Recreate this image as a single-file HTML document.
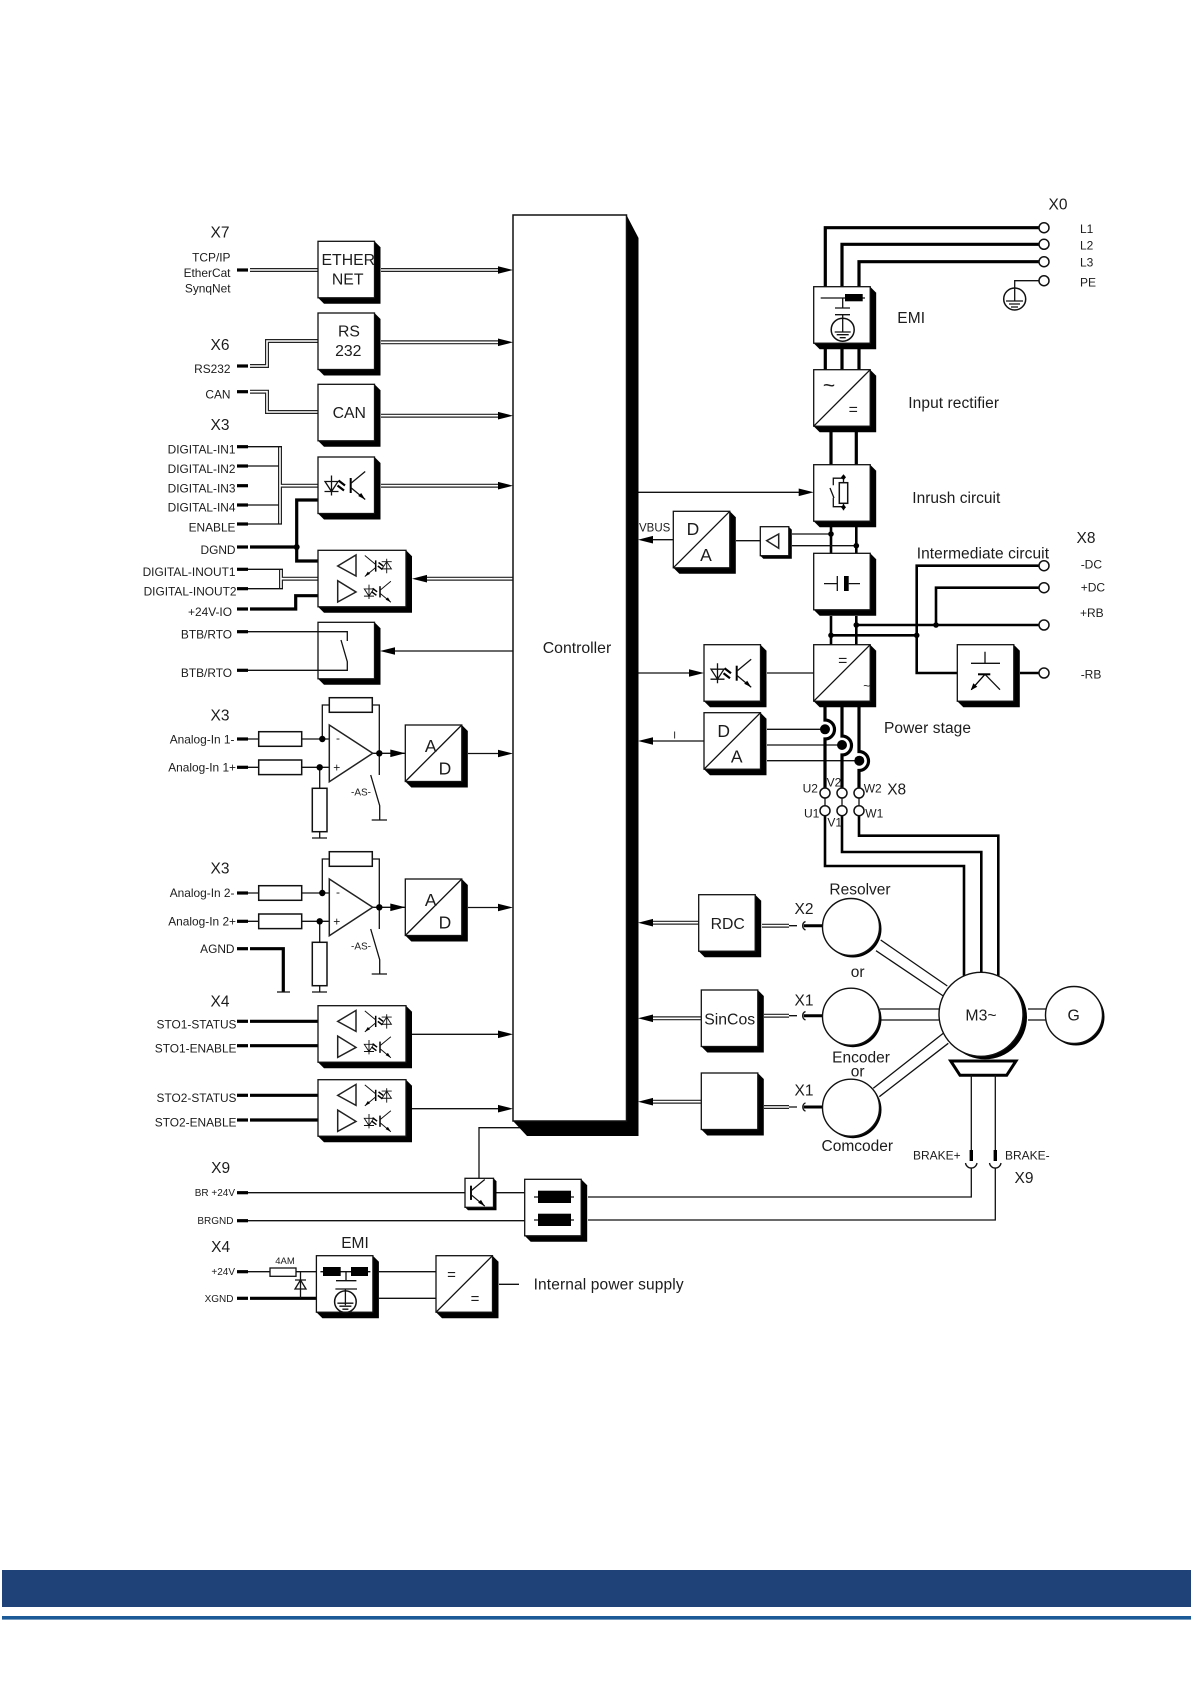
<!DOCTYPE html>
<html><head><meta charset="utf-8"><title>Block diagram</title>
<style>
html,body{margin:0;padding:0;background:#fff;width:1191px;height:1684px;overflow:hidden}
svg{display:block}
text{font-family:"Liberation Sans",sans-serif;fill:#1c1c1c;dominant-baseline:central}
.m{text-anchor:middle}.e{text-anchor:end}
.s{font-size:11.9px;transform:translateY(1px)}.x{font-size:15.5px;transform:translateY(1px)}.b{font-size:15.8px;transform:translateY(1px)}.t{font-size:10px;transform:translateY(1px)}.a{font-size:17.5px;transform:translateY(1px)}.k{font-size:12px}
.w{fill:none;stroke:#111;stroke-width:1.3}
.h{fill:none;stroke:#000;stroke-width:3.2}
.p{fill:none;stroke:#000;stroke-width:2.6}
.f{fill:#000;stroke:none}
.c{fill:#fff;stroke:#111;stroke-width:1.5}
</style></head><body>
<svg width="1191" height="1684" viewBox="0 0 1191 1684" xmlns="http://www.w3.org/2000/svg">
<defs>
<g id="b"><path class="f" d="M56.5,0L62.5,6V62.5H6L0,56.5Z"/><rect x="0" y="0" width="56.5" height="56.5" fill="#fff" stroke="#111" stroke-width="1.3"/></g>
<g id="bw"><path class="f" d="M88,0L94,6V62.5H6L0,56.5Z"/><rect x="0" y="0" width="88" height="56.5" fill="#fff" stroke="#111" stroke-width="1.3"/></g>
<g id="bs"><path class="f" d="M28.5,0L31.5,3V32H3L0,29Z"/><rect x="0" y="0" width="28.5" height="29" fill="#fff" stroke="#111" stroke-width="1.3"/></g>
<g id="tr"><path d="M0,-7.5V7.5" stroke="#000" stroke-width="2" fill="none"/><path class="w" d="M0,-2L14.5,-14M0,2L14.5,14"/><path class="f" d="M14.5,14L7.5,10.5L10.5,7.5Z"/></g>
<g id="di"><path class="w" d="M0,-10V10M-6.5,-4H6.5L0,6ZM-7,6H7"/></g>
<path id="bl" d="M-3.5,-5L3,0M-4.5,0L2,5" stroke="#000" stroke-width="2.2" fill="none"/>
<g id="op"><use href="#tr" x="32.7" y="28.5"/><use href="#di" x="13.5" y="28.5"/><use href="#bl" x="24" y="28.5"/></g>
<g id="du"><use href="#bw"/>
<path fill="none" stroke="#222" stroke-width="1.5" d="M19.7,15.7L38,4.7V25.7ZM19.7,30.4V51.7L38,41.7Z"/>
<use href="#tr" transform="translate(57.7,15.7) scale(-.75,.75)"/>
<use href="#di" transform="translate(68.7,15.7) rotate(180) scale(.72)"/>
<use href="#bl" transform="translate(63,15.7) scale(.7)"/>
<use href="#di" transform="translate(51,41.5) scale(.72)"/>
<use href="#bl" transform="translate(57,41.5) scale(.7)"/>
<use href="#tr" transform="translate(62,41.5) scale(.75)"/>
</g>
<path id="ar" class="f" d="M-15,-3.8L0,0L-15,3.8Z"/>
<path id="al" class="f" d="M15,-3.8L0,0L15,3.8Z"/>
<path id="diag" class="w" d="M0,56.5L56.5,0"/>
<g id="amp">
<path class="w" d="M248,739H258.7M301.7,739H329.3M248,767.3H258.7M301.7,767.3H329.3M319.7,767.3V788.3M319.7,831.7V838M312,838H327M322.3,739V705H329.3M372.3,705H379.3V775M372.7,753.3H405.3M468,753.5H500M370.7,775L379.7,805.7V820M371.7,820H387" />
<rect class="c" x="258.7" y="731.7" width="43" height="14.6"/>
<rect class="c" x="258.7" y="760" width="43" height="14.6"/>
<rect class="c" x="329.3" y="697.7" width="43" height="14.6"/>
<rect class="c" x="312.3" y="788.3" width="14.7" height="43.4"/>
<path fill="#fff" stroke="#222" stroke-width="1.5" d="M329.3,725V781.7L372.7,753.3Z"/>
<circle class="f" cx="322.3" cy="739" r="3.2"/><circle class="f" cx="319.7" cy="767.3" r="3.2"/><circle class="f" cx="379.3" cy="753.3" r="3.2"/>
<use href="#ar" x="405.3" y="753.3"/><use href="#ar" x="513" y="753.5"/>
<g transform="translate(405.3,725)"><use href="#b"/><use href="#diag"/></g>
</g>
<path id="stub" d="M0,0H11" stroke="#000" stroke-width="3.2" fill="none"/>
<g id="dbl" fill="none">
<path d="M250,270H318M381,270H498M250,366H267V341H318M381,342.3H498M250,391.7H267V412H318M381,415.7H498M280,485.7H318M381,485.7H498M281,578.7H318M425,578.7H513M280,446.7V524M281,569.3V588.7"/>
<path d="M650,922.7H699M762,925.7H789M650,1018.3H702M764,1015.7H789M650,1101.7H702M764,1107H789"/>
</g>
</defs>

<rect width="1191" height="1684" fill="#fff"/>

<!-- double wires -->
<use href="#dbl" stroke="#222" stroke-width="4"/>
<use href="#dbl" stroke="#fff" stroke-width="1.6"/>

<!-- left wires -->
<path class="w" d="M248,446.7H282M248,466H279M248,505H279M248,524H282M248,569.3H283M248,588.7H283M248,631.7H318M248,670.3H318M395,651H513"/>
<path class="h" d="M318,500H296.7V561H318M250,547H296.7M250,609H295.7V595.7H318M250,948.7H283.3V992"/>
<path class="h" d="M250,1021.3H318M250,1045.7H318M250,1095.3H318M250,1120H318M250,1298.3H316.4"/>
<path class="w" d="M277,992H290M412,1034.3H500M412,1108.7H500"/>
<circle class="f" cx="296.7" cy="547" r="3"/>

<!-- stubs -->
<g>
<use href="#stub" x="237" y="270"/><use href="#stub" x="237" y="366"/><use href="#stub" x="237" y="391.7"/>
<use href="#stub" x="237" y="446.7"/><use href="#stub" x="237" y="466"/><use href="#stub" x="237" y="485.7"/><use href="#stub" x="237" y="505"/><use href="#stub" x="237" y="524"/>
<use href="#stub" x="237" y="547"/><use href="#stub" x="237" y="569.3"/><use href="#stub" x="237" y="588.7"/><use href="#stub" x="237" y="609"/>
<use href="#stub" x="237" y="631.7"/><use href="#stub" x="237" y="670.3"/>
<use href="#stub" x="237" y="739"/><use href="#stub" x="237" y="767.3"/><use href="#stub" x="237" y="893"/><use href="#stub" x="237" y="921.3"/><use href="#stub" x="237" y="948.7"/>
<use href="#stub" x="237" y="1021.3"/><use href="#stub" x="237" y="1045.7"/><use href="#stub" x="237" y="1095.3"/><use href="#stub" x="237" y="1120"/>
<use href="#stub" x="237" y="1192.7"/><use href="#stub" x="237" y="1220.7"/><use href="#stub" x="237" y="1271.7"/><use href="#stub" x="237" y="1298.3"/>
</g>

<!-- bottom left wires -->
<path class="w" d="M248,1192.7H465M496,1192.7H525M248,1220.7H525M248,1271.7H316.4M300.5,1271.7V1298M479,1178.3V1127.7H520M379,1271.7H436M379,1298.3H436M499,1284.3H519M588,1197H971.3V1168M588,1220H995.3V1168"/>
<rect class="c" x="270" y="1268" width="26" height="8.3" style="stroke-width:1.3"/>
<path class="w" d="M295,1289H306M300.5,1280L295,1289H306ZM295,1280H306" />

<!-- amplifier blocks -->
<use href="#amp"/>
<use href="#amp" y="154"/>

<!-- controller -->
<path class="f" d="M626.5,215L638.5,238V1136H527L513,1121Z"/>
<rect x="513" y="215" width="113.5" height="906" fill="#fff" stroke="#111" stroke-width="1.5"/>

<!-- arrows at controller -->
<use href="#ar" x="513" y="270"/><use href="#ar" x="513" y="342.3"/><use href="#ar" x="513" y="415.7"/><use href="#ar" x="513" y="485.7"/>
<use href="#al" x="412" y="578.7"/><use href="#al" x="380" y="651"/>
<use href="#ar" x="513" y="1034.3"/><use href="#ar" x="513" y="1108.7"/>

<!-- left boxes -->
<use href="#b" x="318" y="241.3"/><use href="#b" x="318" y="313"/><use href="#b" x="318" y="384.3"/>
<g transform="translate(318,457)"><use href="#b"/><use href="#op"/></g>
<use href="#du" x="318" y="550.3"/>
<use href="#du" x="318" y="1005.7"/>
<use href="#du" x="318" y="1079.7"/>
<use href="#b" x="318" y="622.3"/>
<path class="w" d="M318,631.7H347.3V641M318,670.3H347.3V661.7L341,640"/>

<!-- top-right wires -->
<path class="h" d="M1039,227.7H825.3V286.7M1039,244.3H842V286.7M1039,261.7H859V286.7"/>
<path class="w" d="M1039,280.7H1014.7V301"/>
<path class="h" d="M825.3,349V370M842,349V370M859,349V370M831,432V465M856.3,432V465"/>
<path class="p" d="M831,526V553.3M856.3,526V553.3M831,616V644.7M856.3,616V644.7"/>
<path class="w" d="M792,534H831M792,545.7H856.3M736,540.7H760.3M652,539.7H673.3M638.5,492.3H799"/>
<path class="p" d="M856.3,625H1039M831,635.3H916.7M1039,565.7H916.7V673H957.3M1039,587.7H936V625M1020,673H1039"/>
<path class="w" d="M638.5,673H690M767,673H813.7M653,741H704M767,729.3H825M767,745H842M767,760.7H859"/>
<use href="#ar" x="813.7" y="492.3"/><use href="#al" x="638" y="539.7"/><use href="#ar" x="704" y="673"/><use href="#al" x="638" y="741"/>
<use href="#al" x="638" y="922.7"/><use href="#al" x="638" y="1018.3"/><use href="#al" x="638" y="1101.7"/>
<g class="f"><circle cx="831" cy="534" r="2.8"/><circle cx="856.3" cy="545.7" r="2.8"/><circle cx="856.3" cy="625" r="2.8"/><circle cx="936" cy="625" r="2.8"/><circle cx="831" cy="635.3" r="2.8"/><circle cx="916.7" cy="635.3" r="2.8"/></g>

<!-- motor wires -->
<path class="h" d="M825,707V720A9.5,9.5 0 0 1 825,739V793M842,707V736A9.5,9.5 0 0 1 842,755V793M859,707V751.5A9.5,9.5 0 0 1 859,770.5V793"/>
<path class="w" d="M825,793V811M842,793V811M859,793V811"/>
<path class="p" d="M825,815V866H964V985M842,815V852H981.3V980M859,815V835.7H998.3V985"/>
<g class="f"><circle cx="825" cy="729.3" r="5"/><circle cx="842" cy="745" r="5"/><circle cx="859.3" cy="760.7" r="5"/></g>

<!-- terminals -->
<g class="c">
<circle class="c" cx="1044" cy="227.7" r="5"/><circle class="c" cx="1044" cy="244.3" r="5"/><circle class="c" cx="1044" cy="261.7" r="5"/><circle class="c" cx="1044" cy="280.7" r="5"/>
<circle class="c" cx="1044" cy="565.7" r="5"/><circle class="c" cx="1044" cy="587.7" r="5"/><circle class="c" cx="1044" cy="625" r="5"/><circle class="c" cx="1044" cy="673" r="5"/>
<circle class="c" cx="825" cy="793" r="5"/><circle class="c" cx="842" cy="793" r="5"/><circle class="c" cx="859" cy="793" r="5"/>
<circle class="c" cx="825" cy="810.7" r="5"/><circle class="c" cx="842" cy="810.7" r="5"/><circle class="c" cx="859" cy="810.7" r="5"/>
</g>
<circle cx="1014.7" cy="299" r="11" fill="none" stroke="#111" stroke-width="1.5"/>
<path class="w" d="M1006,301H1023M1009,304H1020M1011,307H1018"/>

<!-- right boxes -->
<g transform="translate(813.7,286.7)"><use href="#b"/>
<path class="w" d="M7,11.3H51.3M29,11.3V21.3M21.3,21.3H36.3M21.3,28H36.3M29,28V45.3M21,45.3H37M23,48H35M26,51H32"/>
<rect class="f" x="31.3" y="7.3" width="17.7" height="7.3"/>
<circle cx="29" cy="43" r="11.5" fill="none" stroke="#111" stroke-width="1.5"/></g>
<g transform="translate(813.7,369.7)"><use href="#b"/><use href="#diag"/></g>
<g transform="translate(813.7,464.7)"><use href="#b"/>
<rect x="25.6" y="18" width="8.4" height="20.6" fill="#fff" stroke="#111" stroke-width="1.5"/>
<path class="w" d="M29.8,10.5V18M29.8,38.6V45.5M29.8,13.5H19.6V20.5M16.3,23.3L20.3,33.3M19.6,33V42H29.8"/>
<path class="f" d="M29.8,9.5L32.3,12.5L29.8,15.5L27.3,12.5ZM29.8,39.5L32.3,42.5L29.8,45.5L27.3,42.5Z"/></g>
<g transform="translate(813.7,553.3)"><use href="#b"/>
<path class="w" d="M10.3,30.3H23.6M23.6,22.7V37.7M35,30.3H46.3"/>
<rect class="f" x="30.3" y="22.7" width="4.7" height="15"/></g>
<g transform="translate(813.7,644.7)"><use href="#b"/><use href="#diag"/></g>
<g transform="translate(704,644.7)"><use href="#b"/><use href="#op"/></g>
<g transform="translate(704,712.7)"><use href="#b"/><use href="#diag"/></g>
<g transform="translate(673.3,511.3)"><use href="#b"/><use href="#diag"/></g>
<g transform="translate(957.3,644.7)"><use href="#b"/>
<path class="w" d="M27.7,7V18.6M13.7,18.6H42.7M27.7,29.6L42.7,45"/>
<path d="M20.7,29.6H33" stroke="#000" stroke-width="2" fill="none"/>
<path d="M27.7,29.6L14,45" stroke="#000" stroke-width="1.3" fill="none"/>
<path class="f" d="M13.5,45.5L16,38.5L20,42Z"/></g>
<use href="#b" x="698.7" y="894.7"/><use href="#b" x="701.3" y="990"/><use href="#b" x="701.3" y="1073"/>
<g transform="translate(760.3,526.7)"><use href="#bs"/><path fill="none" stroke="#222" stroke-width="1.5" d="M6.4,14L18.4,7.3V21.6Z"/></g>
<g transform="translate(465,1178.3)"><use href="#bs"/><use href="#tr" transform="translate(6,14.5) scale(.95)"/></g>
<g transform="translate(524.7,1179.3)"><use href="#b"/>
<path class="w" d="M9.3,17.7H49.3M9.3,40.7H49.3"/>
<rect class="f" x="13.3" y="11.4" width="33" height="12.3"/><rect class="f" x="13.3" y="34.4" width="33" height="12.3"/></g>
<g transform="translate(316.4,1255.7)"><use href="#b"/>
<path class="w" d="M4,16H54M29.6,16V25M19.6,25H40M19,33.3H40.6M29,33.3V49.5M21,47.5H37M23,50.5H35M26,53.5H32"/>
<rect class="f" x="6.6" y="11.3" width="17.7" height="9"/><rect class="f" x="34.6" y="11.3" width="17" height="9"/>
<circle cx="29" cy="46" r="10.8" fill="none" stroke="#111" stroke-width="1.5"/></g>
<g transform="translate(436,1255.7)"><use href="#b"/><use href="#diag"/></g>

<!-- encoder lines -->
<path class="w" d="M880.7,940L947.3,986M876,950.7L943.3,996M880,1009H939M880,1020H939M873.3,1088.3L943.3,1033.3M879.3,1096.7L948.3,1043.3M1028,1009H1046M1028,1020H1046"/>

<!-- X connectors -->
<path class="w" d="M789,925.7H797M789,1015.7H797M789,1107H797M805.5,921.5A4.6,4.6 0 0 0 805.5,930M805.5,1011.5A4.6,4.6 0 0 0 805.5,1020M805.5,1102.8A4.6,4.6 0 0 0 805.5,1111.2"/>
<path d="M803.7,925.7H822M803.7,1015.7H822M803.7,1107H822" stroke="#000" stroke-width="3" fill="none"/>

<!-- circles -->
<g>
<circle class="f" cx="853" cy="929" r="28.5"/><circle cx="851" cy="927" r="28.5" fill="#fff" stroke="#111" stroke-width="1.4"/>
<circle class="f" cx="853" cy="1018.7" r="28.5"/><circle cx="851" cy="1016.7" r="28.5" fill="#fff" stroke="#111" stroke-width="1.4"/>
<circle class="f" cx="853" cy="1109.7" r="28.5"/><circle cx="851" cy="1107.7" r="28.5" fill="#fff" stroke="#111" stroke-width="1.4"/>
<circle class="f" cx="1076" cy="1017" r="28.5"/><circle cx="1074" cy="1015" r="28.5" fill="#fff" stroke="#111" stroke-width="1.4"/>
<circle class="f" cx="985" cy="1017.3" r="42"/><circle cx="981" cy="1014.3" r="42" fill="#fff" stroke="#111" stroke-width="1.4"/>
</g>
<path fill="#fff" stroke="#000" stroke-width="3" d="M950.7,1061H1016L1006.7,1075.3H960Z"/>

<!-- brake -->
<path class="w" d="M971.3,1075V1150M995.3,1075V1150M965.5,1163A5.8,5.8 0 0 0 977,1163M989.5,1163A5.8,5.8 0 0 0 1001,1163"/>
<path d="M971.3,1150V1161M995.3,1150V1161" stroke="#000" stroke-width="3.4" fill="none"/>

<!-- footer -->
<rect x="2" y="1570" width="1189" height="37" fill="#1f4279"/>
<rect x="2" y="1616" width="1189" height="3.6" fill="#1b5a96"/>

<!-- TEXT left -->
<text class="x m" x="220" y="232">X7</text>
<text class="s e" x="230.5" y="256.7">TCP/IP</text>
<text class="s e" x="230.5" y="272">EtherCat</text>
<text class="s e" x="230.5" y="287.3">SynqNet</text>
<text class="x m" x="220" y="344.3">X6</text>
<text class="s e" x="230.5" y="368">RS232</text>
<text class="s e" x="230.5" y="393.7">CAN</text>
<text class="x m" x="220" y="424.3">X3</text>
<text class="s e" x="235.5" y="448.7">DIGITAL-IN1</text>
<text class="s e" x="235.5" y="468">DIGITAL-IN2</text>
<text class="s e" x="235.5" y="487.7">DIGITAL-IN3</text>
<text class="s e" x="235.5" y="506.7">DIGITAL-IN4</text>
<text class="s e" x="235.5" y="526.3">ENABLE</text>
<text class="s e" x="235.5" y="549">DGND</text>
<text class="s e" x="235.5" y="571">DIGITAL-INOUT1</text>
<text class="s e" x="236.5" y="590.3">DIGITAL-INOUT2</text>
<text class="s e" x="232" y="611">+24V-IO</text>
<text class="s e" x="232" y="633.7">BTB/RTO</text>
<text class="s e" x="232" y="672">BTB/RTO</text>
<text class="x m" x="220" y="715">X3</text>
<text class="s e" x="234.5" y="738.3">Analog-In 1-</text>
<text class="s e" x="236" y="766.7">Analog-In 1+</text>
<text class="x m" x="220" y="868">X3</text>
<text class="s e" x="234.5" y="892">Analog-In 2-</text>
<text class="s e" x="236" y="920.3">Analog-In 2+</text>
<text class="s e" x="234.5" y="948">AGND</text>
<text class="x m" x="220" y="1001">X4</text>
<text class="s e" x="236.5" y="1023.3">STO1-STATUS</text>
<text class="s e" x="236.5" y="1047.3">STO1-ENABLE</text>
<text class="s e" x="236.5" y="1097">STO2-STATUS</text>
<text class="s e" x="236.5" y="1121.7">STO2-ENABLE</text>
<text class="x m" x="220.6" y="1167.3">X9</text>
<text class="t e" x="235" y="1192.7">BR +24V</text>
<text class="t e" x="233.5" y="1220.7">BRGND</text>
<text class="x m" x="220.6" y="1246.7">X4</text>
<text class="t e" x="235" y="1271.7">+24V</text>
<text class="t e" x="233.5" y="1298.3">XGND</text>
<text class="m" style="font-size:9.5px" x="285" y="1261.5">4AM</text>
<text class="x m" x="355" y="1242.7">EMI</text>
<text class="x" x="533.6" y="1284" textLength="150">Internal power supply</text>

<!-- TEXT boxes -->
<text class="b m" x="348.3" y="259.3">ETHER</text>
<text class="b m" x="347.7" y="279">NET</text>
<text class="b m" x="349" y="331">RS</text>
<text class="b m" x="348.3" y="350.7">232</text>
<text class="b m" x="349.3" y="412.7">CAN</text>
<text class="b m" x="577" y="647.6">Controller</text>
<text class="a m" x="430.7" y="745">A</text><text class="a m" x="445" y="767.3">D</text>
<text class="a m" x="430.7" y="899">A</text><text class="a m" x="445" y="921.3">D</text>
<text class="a m" x="693" y="528">D</text><text class="a m" x="706" y="554">A</text>
<text class="a m" x="723.7" y="730">D</text><text class="a m" x="736.7" y="755.7">A</text>
<text class="k m" x="338" y="738">-</text><text class="k m" x="336.7" y="767.3">+</text>
<text class="k m" x="338" y="892">-</text><text class="k m" x="336.7" y="921.3">+</text>
<text class="t m" x="361" y="792">-AS-</text><text class="t m" x="361" y="946">-AS-</text>
<text class="a m" style="font-size:21px" x="829" y="385">~</text><text class="b m" x="853.3" y="409">=</text>
<text class="b m" x="842.7" y="660">=</text><text class="k m" x="866.7" y="686">~</text>
<text class="a m" style="font-size:15px" x="451.5" y="1274">=</text><text class="a m" style="font-size:15px" x="475" y="1298">=</text>
<text class="b m" x="727.7" y="923.3">RDC</text>
<text class="b m" x="729.7" y="1019">SinCos</text>
<text class="b m" x="981" y="1015">M3~</text>
<text class="b m" x="1073.7" y="1015">G</text>

<!-- TEXT right -->
<text class="x m" x="1058" y="204">X0</text>
<text class="k" x="1080" y="229">L1</text>
<text class="k" x="1080" y="245.7">L2</text>
<text class="k" x="1080" y="262.7">L3</text>
<text class="k" x="1080" y="282.3">PE</text>
<text class="x" x="897.3" y="317.7" textLength="27.7">EMI</text>
<text class="x" x="908.3" y="402.7" textLength="90.7">Input rectifier</text>
<text class="x" x="912.3" y="497.3" textLength="88">Inrush circuit</text>
<text class="x m" x="1086" y="537.3">X8</text>
<text class="x" x="916.7" y="553" textLength="132.3">Intermediate circuit</text>
<text class="k" x="1080.7" y="564.3">-DC</text>
<text class="k" x="1080.7" y="587.7">+DC</text>
<text class="k" x="1080" y="613">+RB</text>
<text class="k" x="1080.7" y="674.3">-RB</text>
<text class="s" style="font-size:11.5px" x="639" y="527.7">VBUS</text>
<text class="t m" x="674.7" y="735">I</text>
<text class="x" x="884" y="727.3" textLength="87">Power stage</text>
<text class="k m" x="810.3" y="788.3">U2</text><text class="k m" x="834" y="782.3">V2</text><text class="k m" x="872.7" y="788.3">W2</text>
<text class="k m" x="811.7" y="813.7">U1</text><text class="k m" x="834.7" y="822.3">V1</text><text class="k m" x="874.3" y="813.7">W1</text>
<text class="x m" x="896.7" y="789">X8</text>
<text class="x m" x="860" y="889">Resolver</text>
<text class="x m" x="857.7" y="971.3">or</text>
<text class="x m" x="861" y="1057">Encoder</text>
<text class="x m" x="857.7" y="1071">or</text>
<text class="x m" x="857.3" y="1145.7">Comcoder</text>
<text class="x m" x="804" y="908.3">X2</text>
<text class="x m" x="804" y="1000">X1</text>
<text class="x m" x="804" y="1090">X1</text>
<text class="k e" x="960.7" y="1155.7">BRAKE+</text>
<text class="k" x="1005" y="1155.7">BRAKE-</text>
<text class="x m" x="1024" y="1177.3">X9</text>
</svg>
</body></html>
